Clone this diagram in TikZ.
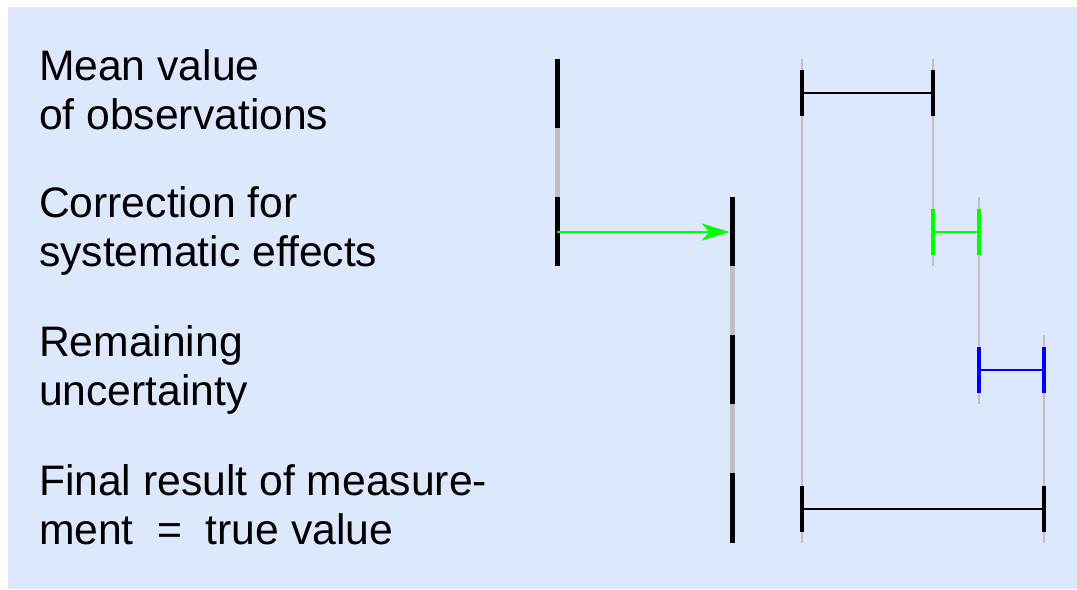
\documentclass[tikz,border=0pt]{standalone}
\usepackage{fontspec}
\setmainfont{Liberation Sans}
\usetikzlibrary{arrows.meta}
\definecolor{panel}{RGB}{222,232,252}
\definecolor{rulegrey}{RGB}{192,192,192}
\definecolor{corrgreen}{RGB}{0,255,0}
\definecolor{uncblue}{RGB}{0,0,255}
\begin{document}
\begin{tikzpicture}[x=0.75pt,y=-0.75pt,
  rowlabel/.style={anchor=base west,inner sep=0pt,outer sep=0pt,
    font=\fontsize{32}{36.75}\selectfont},
  valbar/.style={line width=3.75pt},
  guide/.style={rulegrey,line width=2.1pt},
  span/.style={line width=1.8pt},
  tickmark/.style={line width=2.4pt},
  shift arrow/.style={corrgreen,line width=1.8pt,
    -{Stealth[length=21pt,width=13pt,inset=6pt]}},
]
% panel and page
\useasboundingbox (0,0) rectangle (1077,589);
\fill[panel] (8,7) rectangle (1077,589);

% row labels
\node[rowlabel] (mean1) at (39,80.7) {Mean value};
\node[rowlabel] (mean2) at (39,129.7) {of observations};
\node[rowlabel] (corr1) at (39,217.7) {Correction for};
\node[rowlabel] (corr2) at (39,266.7) {systematic effects};
\node[rowlabel] (rem1) at (39,356.7) {Remaining};
\node[rowlabel] (rem2) at (39,405.7) {uncertainty};
\node[rowlabel] (fin1) at (39,495) {Final result of measure-};
\node[rowlabel] (fin2) at (39,544) {ment\hspace{0.55em}=\hspace{0.55em}true value};

% value bars: mean value and corrected value
\draw[valbar] (557,59) -- (557,128);
\draw[valbar,rulegrey] (557,128) -- (557,197);
\draw[valbar] (557,197) -- (557,266);

\draw[valbar] (732,197) -- (732,266);
\draw[valbar,rulegrey] (732,266) -- (732,335);
\draw[valbar] (732,335) -- (732,404);
\draw[valbar,rulegrey] (732,404) -- (732,473);
\draw[valbar] (732,473) -- (732,543);

% correction shift
\coordinate (shiftA) at (557,232);
\coordinate (shiftB) at (729.5,232);
\draw[shift arrow] (shiftA) -- (shiftB);

% guide lines
\draw[guide] (802,59) -- (802,543);
\draw[guide] (933,59) -- (933,266);
\draw[guide] (979,197) -- (979,404);
\draw[guide] (1044,335) -- (1044,543);

% intervals with end ticks
\coordinate (m0) at (802,93);  \coordinate (m1) at (933,93);
\coordinate (c0) at (933,232); \coordinate (c1) at (979,232);
\coordinate (u0) at (979,370); \coordinate (u1) at (1044,370);
\coordinate (f0) at (802,509); \coordinate (f1) at (1044,509);

\draw[span] (m0) -- (m1);
\draw[tickmark] ([yshift=-17.5]m0) -- ([yshift=17.5]m0);
\draw[tickmark] ([yshift=-17.5]m1) -- ([yshift=17.5]m1);

\draw[span,corrgreen] (c0) -- (c1);
\draw[tickmark,corrgreen] ([yshift=-17.5]c0) -- ([yshift=17.5]c0);
\draw[tickmark,corrgreen] ([yshift=-17.5]c1) -- ([yshift=17.5]c1);

\draw[span,uncblue] (u0) -- (u1);
\draw[tickmark,uncblue] ([yshift=-17.5]u0) -- ([yshift=17.5]u0);
\draw[tickmark,uncblue] ([yshift=-17.5]u1) -- ([yshift=17.5]u1);

\draw[span] (f0) -- (f1);
\draw[tickmark] ([yshift=-17.5]f0) -- ([yshift=17.5]f0);
\draw[tickmark] ([yshift=-17.5]f1) -- ([yshift=17.5]f1);
\end{tikzpicture}
\end{document}
